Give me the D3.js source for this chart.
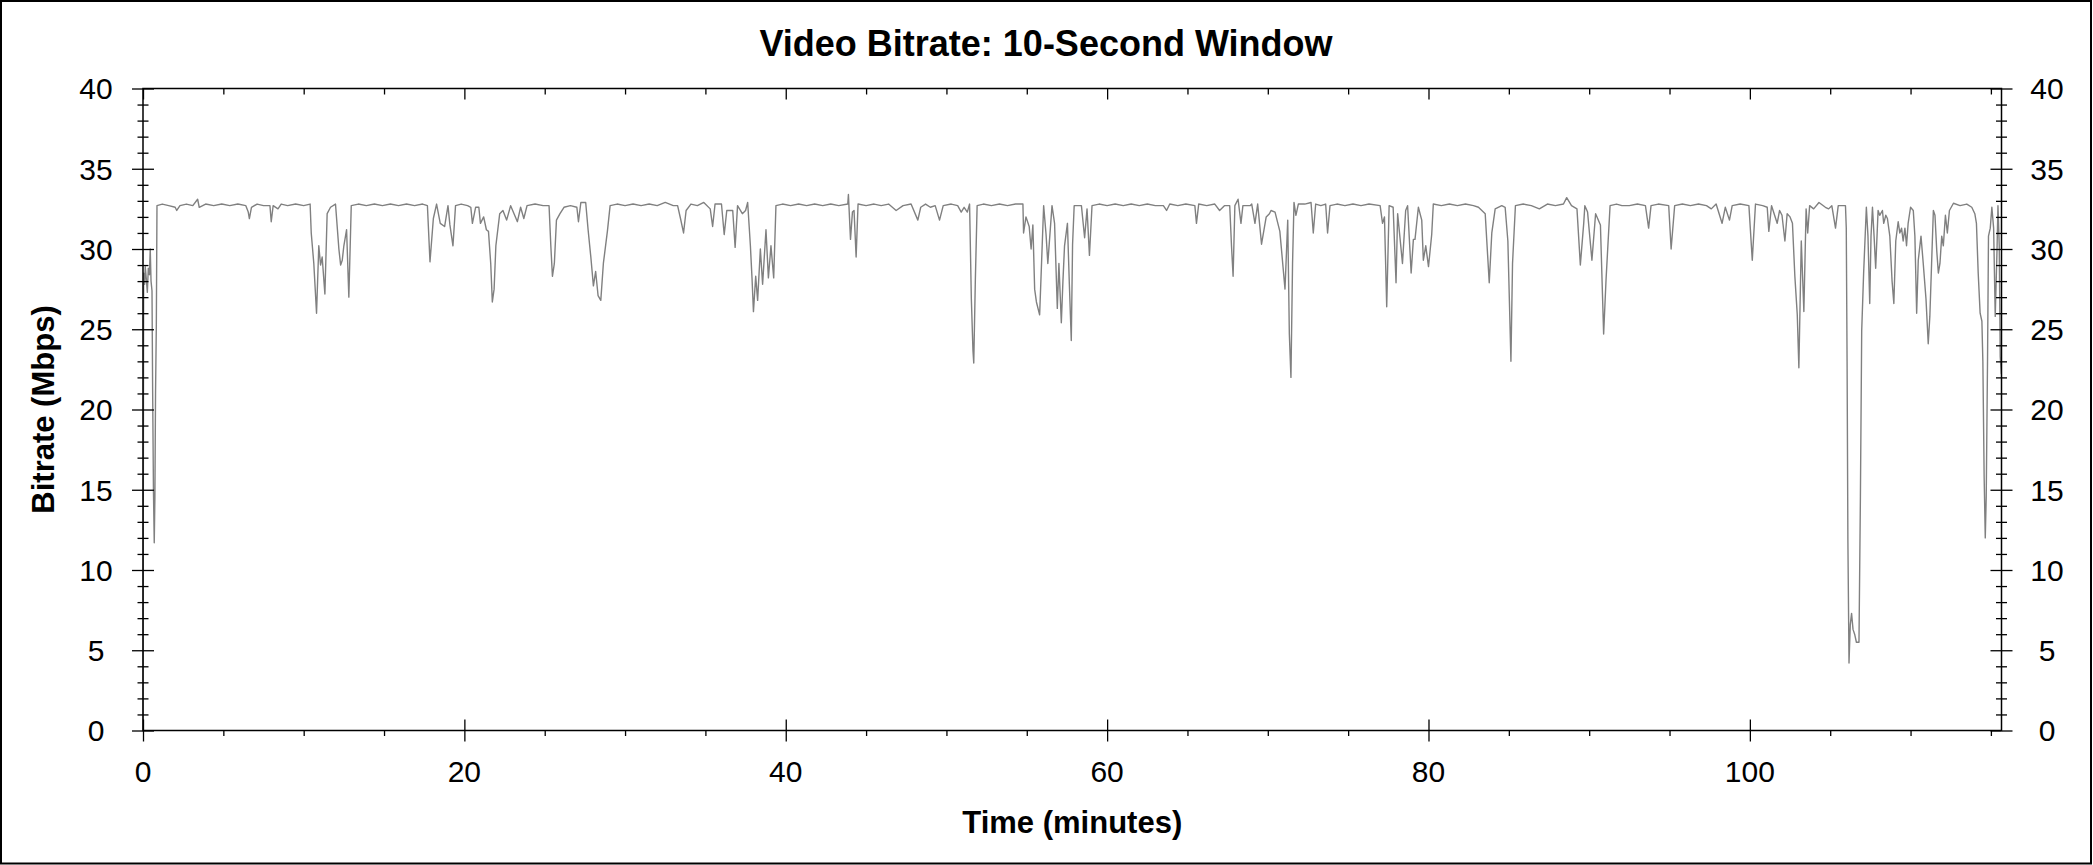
<!DOCTYPE html>
<html>
<head>
<meta charset="utf-8">
<script src="https://cdn.jsdelivr.net/npm/d3@7"></script>
<style>
  body { margin: 0; background: #fff; }
  svg { display: block; font-family: "Liberation Sans", Arial, sans-serif; }
  .tick line { stroke: #000; stroke-width: 1.3; }
</style>
</head>
<body>
<svg id="chart" width="2093" height="865"></svg>
<script>
// bitrate readings, [minute, Mbps], split in pieces along the timeline
const part1 = [[0,0],[0.04,28.5],[0.1,27.8],[0.14,28.9],[0.2,28.2],[0.27,27.3],[0.33,28.8],[0.4,28.4],[0.45,30.0],[0.5,28.0],[0.56,27.4],[0.6,21.2],[0.65,15.0],[0.7,11.7],[0.74,14.5],[0.78,21],[0.83,25.3],[0.87,32.7],
  [1.2,32.8],[1.6,32.7],[2.0,32.6],[2.1,32.4],[2.3,32.7],[2.7,32.8],[3.1,32.7],[3.4,33.1],[3.5,32.6],[3.9,32.8],[4.4,32.7],[4.9,32.8],[5.4,32.7],[5.9,32.8],[6.4,32.7],[6.55,32.3],[6.62,31.9],[6.75,32.6],[7.1,32.8],[7.5,32.7],[7.9,32.7],[7.98,31.7],[8.1,32.7],[8.4,32.5],[8.6,32.8],[9.0,32.7],[9.5,32.8],[10.0,32.7],[10.4,32.8],
  [10.47,31.0],[10.63,29.1],[10.8,26.0],[10.94,30.2],[11.05,29.0],[11.15,29.5],[11.32,27.2],[11.46,32.2],[11.67,32.6],[11.98,32.8],[12.19,30.0],[12.3,29.0],[12.4,29.3],[12.5,30.2],[12.67,31.2],[12.81,27.0],[12.96,32.7],
  [13.4,32.8],[13.9,32.7],[14.4,32.8],[14.9,32.7],[15.4,32.8],[15.9,32.7],[16.4,32.8],[16.9,32.7],[17.4,32.8],[17.7,32.7],
  [17.86,29.2],[18.07,31.9],[18.27,32.8],[18.5,31.6],[18.77,31.4],[18.98,32.7],[19.1,31.5],[19.29,30.2],[19.45,32.7],[19.8,32.8],[20.2,32.7],[20.4,32.6],[20.5,31.6],[20.7,32.6],[20.9,32.6],[21.0,31.6],[21.2,32.0],[21.37,31.2],[21.5,31.1],[21.64,29.1],[21.74,26.7],[21.85,27.5],[21.96,30.2],[22.2,32.2],[22.4,32.4],[22.63,31.8],[22.88,32.7]];

const part2 = [[23.3,31.7],[23.5,32.6],[23.7,31.9],[23.9,32.7],[24.4,32.8],[24.9,32.7],[25.27,32.7],[25.38,30.2],[25.48,28.3],[25.6,29.1],[25.73,31.8],[25.95,32.2],[26.2,32.6],[26.6,32.7],[27.0,32.6],[27.1,31.7],[27.25,32.9],[27.55,32.9],[27.7,31.2],[27.87,29.5],[28.03,27.7],[28.17,28.6],[28.32,27.1],[28.49,26.8],[28.65,29.1],[28.8,30.3],[28.9,31.1],[29.07,32.7],
  [29.5,32.8],[30.0,32.7],[30.5,32.8],[31.0,32.7],[31.5,32.8],[32.0,32.7],[32.5,32.9],[33.0,32.7],[33.27,32.7],
  [33.45,31.9],[33.64,31.0],[33.8,32.4],[34.1,32.8],[34.5,32.7],[34.9,32.9],[35.3,32.5],[35.45,31.4],[35.6,32.8],[36.0,32.8],[36.17,30.9],[36.33,32.4],[36.7,32.4],[36.85,30.1],[37.0,32.7],[37.3,32.2],[37.5,32.4],[37.63,32.9],[37.8,30.2],[37.9,28.2],[37.99,26.1],[38.13,28.3],[38.25,26.8],[38.42,30.0],[38.56,27.8],[38.77,31.2],[38.92,28.2],[39.08,30.2],[39.25,28.2],[39.39,32.7],
  [39.8,32.8],[40.3,32.7],[40.8,32.8],[41.3,32.7],[41.8,32.8],[42.3,32.7],[42.8,32.8],[43.3,32.7],[43.86,32.8],[43.9,33.4],[44.03,30.6],[44.15,32.3],[44.25,32.4],[44.38,29.5],[44.5,32.8],[45.0,32.7],[45.5,32.8],[45.94,32.7]];

const part3 = [[46.4,32.8],[46.87,32.4],[47.3,32.7],[47.8,32.8],[48.22,31.8],[48.4,32.6],[48.7,32.8],[49.0,32.6],[49.3,32.7],[49.57,31.8],[49.8,32.7],[50.3,32.8],[50.7,32.7],[50.92,32.3],[51.1,32.6],[51.3,32.3],[51.44,32.8],[51.55,26.9],[51.65,23.7],[51.7,22.9],[51.8,28.1],[51.91,32.7],
  [52.3,32.8],[52.8,32.7],[53.3,32.8],[53.8,32.7],[54.3,32.8],[54.76,32.8],[54.8,31.0],[54.95,32.0],[55.15,31.4],[55.27,30.0],[55.38,31.5],[55.49,27.5],[55.6,26.7],[55.8,25.9],[55.9,28.6],[56.05,32.7],[56.2,30.9],[56.31,29.1],[56.57,32.7],[56.73,31.6],[56.9,26.3],[57.0,29.1],[57.15,25.4],[57.25,28.0],[57.35,30.2],[57.53,31.6],[57.65,27.8],[57.77,24.3],[57.85,30.3],[57.95,32.7],[58.4,32.7],[58.6,30.7],[58.75,32.5],[58.9,29.6],[59.06,32.7],
  [59.5,32.8],[60.0,32.7],[60.5,32.8],[61.0,32.7],[61.5,32.8],[62.0,32.7],[62.5,32.8],[63.0,32.7],[63.5,32.7],[63.7,32.4],[63.9,32.8],[64.4,32.7],[64.9,32.8],[65.46,32.7],[65.56,31.6],[65.7,32.8],[66.2,32.7],[66.7,32.8],[67.0,32.4],[67.3,32.7],[67.63,32.7],[67.74,30.2],[67.84,28.3],[67.95,32.7],[68.15,33.1],[68.33,31.6],[68.45,32.7],[68.9,32.7],[69.0,32.8]];

const part4 = [[69.2,31.6],[69.37,32.8],[69.61,30.3],[69.9,32.0],[70.1,32.2],[70.2,32.4],[70.45,32.3],[70.75,31.1],[71.07,27.5],[71.24,31.8],[71.34,24.7],[71.44,22.0],[71.54,29.1],[71.63,32.9],[71.75,32.1],[71.9,32.8],[72.3,32.8],[72.69,32.9],[72.83,31.0],[72.98,32.8],[73.3,32.7],[73.6,32.8],[73.72,31.0],[73.87,32.7],
  [74.3,32.8],[74.8,32.7],[75.3,32.8],[75.8,32.7],[76.3,32.8],[76.99,32.7],[77.14,31.6],[77.26,32.0],[77.4,26.4],[77.55,32.7],[77.8,32.6],[77.98,27.9],[78.08,32.2],[78.38,29.1],[78.58,32.4],[78.7,32.7],[78.92,28.5],[79.06,30.6],[79.16,30.6],[79.37,32.6],[79.58,31.8],[79.68,29.3],[79.83,30.2],[80.0,28.9],[80.2,30.9],[80.3,32.8],
  [80.8,32.7],[81.3,32.8],[81.8,32.7],[82.3,32.8],[82.8,32.7],[83.11,32.6],[83.32,32.4],[83.53,32.2],[83.78,27.9],[83.94,31.0],[84.15,32.5],[84.56,32.7],[84.77,32.6],[84.94,30.5],[85.13,23.0],[85.23,29.1],[85.41,32.7],
  [85.9,32.8],[86.4,32.7],[86.9,32.5],[87.4,32.8],[87.9,32.7],[88.4,32.8],[88.6,33.2],[88.9,32.7],[89.24,32.5],[89.45,29.0],[89.66,31.6],[89.73,32.7],[89.9,32.3],[90.17,29.3],[90.4,32.2],[90.7,31.5],[90.9,24.7],[91.05,28.1],[91.3,32.7],[91.7,32.8],[92.04,32.7]];

const part5 = [[92.5,32.7],[93.0,32.8],[93.5,32.7],[93.7,31.3],[93.85,32.7],[94.3,32.8],[94.95,32.7],[95.1,30.0],[95.32,32.7],[95.8,32.8],[96.3,32.7],[96.8,32.8],[97.3,32.7],[97.6,32.5],[97.9,32.8],[98.27,31.6],[98.47,32.6],[98.73,31.8],[98.9,32.7],[99.4,32.8],[99.94,32.7],[100.15,29.3],[100.35,32.8],[100.8,32.7],[101.08,32.6],[101.18,31.1],[101.35,32.7],[101.7,31.6],[101.85,32.4],[102.0,32.1],[102.18,30.5],[102.32,32.2],[102.5,32.0],[102.65,31.6],[102.8,28.3],[102.95,25.9],[103.05,22.6],[103.2,30.5],[103.36,26.1],[103.5,32.5],[103.6,31.0],[103.72,32.7],[103.97,32.5],[104.3,32.9],[104.7,32.6],[104.9,32.5],[105.1,32.7],[105.33,31.3],[105.5,32.7],[105.95,32.7],
  [106.0,31.3],[106.05,23.0],[106.1,11.9],[106.17,4.2],[106.25,6.6],[106.33,7.3],[106.42,6.3],[106.52,6.0],[106.63,5.5],[106.79,5.5],[106.88,14.6],[106.96,24.9],[107.08,28.5],[107.25,32.6],[107.35,30.8],[107.46,26.6],[107.54,30.8],[107.63,32.6],[107.73,30.8],[107.83,28.8],[107.98,32.4],[108.08,32.1],[108.25,32.4],[108.33,31.6],[108.46,32.1],[108.56,31.9],[108.71,30.8],[108.85,28.0],[108.96,26.6],[109.08,30.5],[109.23,31.7],[109.33,31.0],[109.44,31.3],[109.54,30.5],[109.65,31.3],[109.75,30.2],[109.85,31.6],[110.0,32.6],[110.17,32.4],[110.27,30.8],[110.38,26.0],[110.48,29.3],[110.65,30.8],[110.79,29.1],[110.96,26.9],[111.1,24.1],[111.2,25.8],[111.31,29.1],[111.42,32.4],[111.52,32.1],[111.63,29.9],[111.73,28.5],[111.83,29.1],[111.94,30.8],[112.04,30.2],[112.17,32.1],[112.29,31.0],[112.42,32.4],[112.67,32.85],[113.08,32.7],[113.5,32.8],[113.81,32.6],[114.0,32.2],[114.1,31.6],[114.21,28.5],[114.33,26.0],[114.44,25.5],[114.5,23.0],[114.58,15.8],[114.65,12.0],[114.71,14.6],[114.79,23.0],[114.85,30.8],[114.96,31.3],[115.06,32.6],[115.17,31.3],[115.27,25.8],[115.38,29.9],[115.44,32.7],[115.52,30.2],[115.58,23.3],[115.65,22.2]];

const xMajor = [0, 20, 40, 60, 80, 100];
const yMajor = [0, 5, 10, 15, 20, 25, 30, 35, 40];
const titleText = "Video Bitrate: 10-Second Window";
const xTitle = "Time (minutes)";
const yTitle = "Bitrate (Mbps)";

const svg = d3.select("#chart");
const plotL = 143, plotR = 2001.5, plotT = 88.5, plotB = 730.5;

const x = d3.scaleLinear().domain([0, 115.66]).range([plotL, plotR]);
const y = d3.scaleLinear().domain([0, 40]).range([plotB, plotT]);

const xMinor = d3.range(0, 116, 5).filter(d => d % 20 !== 0);
const yMinor = d3.range(0, 41, 1).filter(d => d % 5 !== 0);

// outer frame
svg.append("rect")
  .attr("x", 1).attr("y", 1).attr("width", 2090).attr("height", 862.5)
  .attr("fill", "none").attr("stroke", "#000").attr("stroke-width", 2);

// the line
const data = part1.concat(part2, part3, part4, part5);
svg.append("path")
  .datum(data)
  .attr("fill", "none")
  .attr("stroke", "#808080")
  .attr("stroke-width", 1.4)
  .attr("stroke-linejoin", "round")
  .attr("d", d3.line().x(d => x(d[0])).y(d => y(d[1])));

function tickAxis(axisFn, scale, values, size, tx, ty) {
  const g = svg.append("g")
    .attr("transform", `translate(${tx},${ty})`)
    .call(axisFn(scale).tickValues(values).tickSize(size).tickFormat(""));
  g.select(".domain").remove();
  return g;
}

// left / right axes: ticks crossing the line
[plotL, plotR].forEach(px => {
  tickAxis(d3.axisLeft, y, yMajor, 11, px, 0);
  tickAxis(d3.axisRight, y, yMajor, 11, px, 0);
  tickAxis(d3.axisLeft, y, yMinor, 5.5, px, 0);
  tickAxis(d3.axisRight, y, yMinor, 5.5, px, 0);
});
// bottom: majors cross, minors outward
tickAxis(d3.axisBottom, x, xMajor, 11, 0, plotB);
tickAxis(d3.axisTop, x, xMajor, 11, 0, plotB);
tickAxis(d3.axisBottom, x, xMinor, 5.5, 0, plotB);
// top: ticks inward
tickAxis(d3.axisBottom, x, xMajor, 11, 0, plotT);
tickAxis(d3.axisBottom, x, xMinor, 6, 0, plotT);

// plot box
svg.append("rect")
  .attr("x", plotL).attr("y", plotT)
  .attr("width", plotR - plotL).attr("height", plotB - plotT)
  .attr("fill", "none").attr("stroke", "#000").attr("stroke-width", 1.5);

// tick labels
svg.append("g").selectAll("text").data(yMajor).join("text")
  .attr("x", 96).attr("y", d => y(d)).attr("dy", "0.36em")
  .attr("text-anchor", "middle").attr("font-size", 30).text(d => d);
svg.append("g").selectAll("text").data(yMajor).join("text")
  .attr("x", 2047).attr("y", d => y(d)).attr("dy", "0.36em")
  .attr("text-anchor", "middle").attr("font-size", 30).text(d => d);
svg.append("g").selectAll("text").data(xMajor).join("text")
  .attr("x", d => x(d)).attr("y", 782)
  .attr("text-anchor", "middle").attr("font-size", 30).text(d => d);

// titles
svg.append("text")
  .attr("x", 1046).attr("y", 56)
  .attr("text-anchor", "middle").attr("font-size", 36).attr("font-weight", "bold")
  .text(titleText);
svg.append("text")
  .attr("x", (plotL + plotR) / 2).attr("y", 833)
  .attr("text-anchor", "middle").attr("font-size", 31).attr("font-weight", "bold")
  .text(xTitle);
svg.append("text")
  .attr("transform", `translate(54,${(plotT + plotB) / 2}) rotate(-90)`)
  .attr("text-anchor", "middle").attr("font-size", 31).attr("font-weight", "bold")
  .text(yTitle);
</script>
</body>
</html>
